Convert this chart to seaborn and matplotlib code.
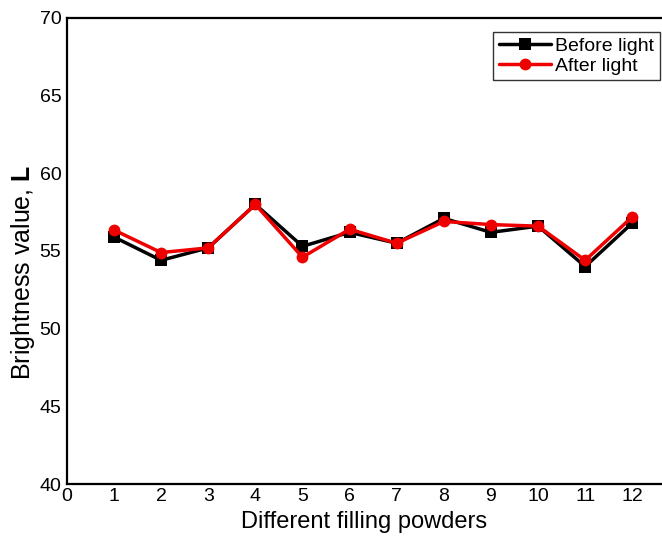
import matplotlib
matplotlib.use("Agg")
import matplotlib.pyplot as plt
import seaborn as sns
import pandas as pd

powders = [1, 2, 3, 4, 5, 6, 7, 8, 9, 10, 11, 12]
before_light = [55.9, 54.4, 55.2, 58.0, 55.3, 56.2, 55.5, 57.1, 56.2, 56.6, 54.0, 56.8]
after_light = [56.35, 54.9, 55.2, 58.0, 54.6, 56.4, 55.5, 56.9, 56.7, 56.6, 54.4, 57.2]
x_ticks = list(range(0, 13))
y_ticks = [40, 45, 50, 55, 60, 65, 70]

sns.set_theme(style="white")
plt.rcParams['font.family'] = ['Liberation Sans', 'DejaVu Sans']
plt.rcParams['mathtext.fontset'] = 'custom'
plt.rcParams['mathtext.bf'] = 'Liberation Sans:bold'
plt.rcParams['mathtext.rm'] = 'Liberation Sans'
plt.rcParams['text.color'] = 'black'
plt.rcParams['axes.labelcolor'] = 'black'

df = pd.DataFrame({
    "powder": powders * 2,
    "L": before_light + after_light,
    "series": ["Before light"] * len(powders) + ["After light"] * len(powders),
})

fig = plt.figure(figsize=(6.62, 5.4), dpi=100)
ax = fig.add_axes([0.101, 0.1037, 0.899, 0.863])

sns.lineplot(data=df, x="powder", y="L", hue="series", style="series",
             palette={"Before light": "black", "After light": "#ee0000"},
             markers={"Before light": "s", "After light": "o"},
             dashes=False, markersize=8.5, linewidth=2.5, markeredgewidth=0,
             ax=ax)

ax.set_xlim(0, 12.63)
ax.set_ylim(40, 70)
ax.set_xticks(x_ticks)
ax.set_yticks(y_ticks)
ax.tick_params(axis='both', length=0, labelsize=14, colors='black')
ax.tick_params(axis='x', pad=3)
ax.tick_params(axis='y', pad=4)
for s in ['left', 'bottom', 'top']:
    ax.spines[s].set_color('black')
    ax.spines[s].set_linewidth(1.6)
ax.spines['right'].set_visible(False)

ax.set_xlabel("Different filling powders", fontsize=17, labelpad=4)
ax.set_ylabel("Brightness value, $\\mathbf{L}$", fontsize=18)
ax.yaxis.set_label_coords(-0.05, 0.455)

leg = ax.legend(loc='upper right', bbox_to_anchor=(1.0, 0.975), fontsize=14,
                frameon=True, fancybox=False, borderpad=0.3, handlelength=2.7,
                handletextpad=0.2, labelspacing=0.1, borderaxespad=0.1)
leg.get_frame().set_edgecolor('black')
leg.get_frame().set_linewidth(1.0)
leg.set_title(None)
for t in leg.get_texts():
    t.set_color('black')

fig.savefig("out.png", dpi=100)
